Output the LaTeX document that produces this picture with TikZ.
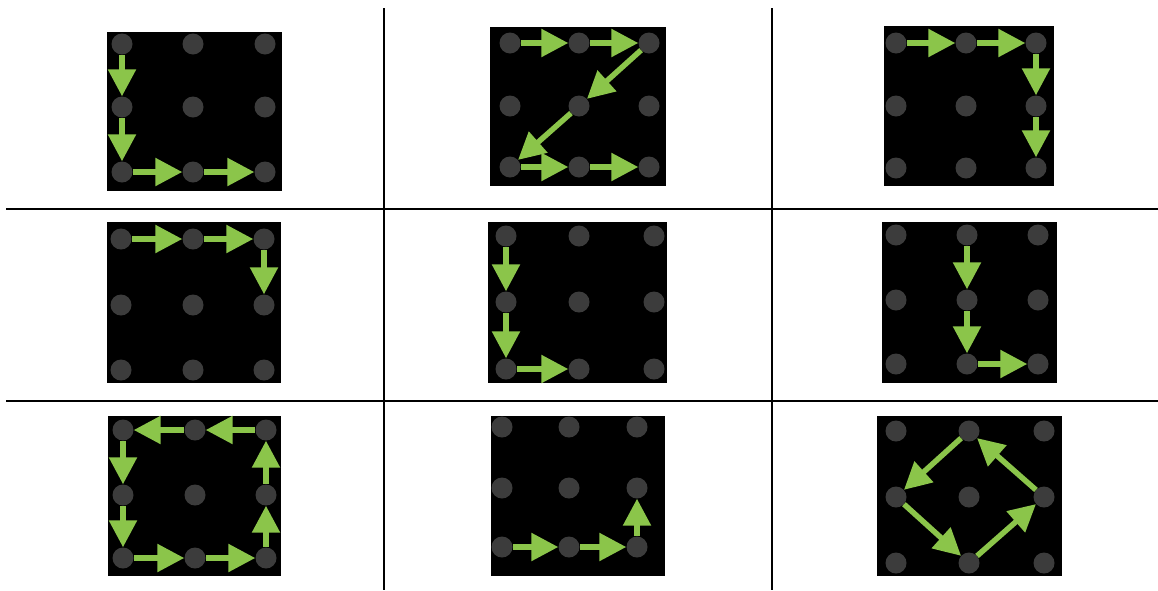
\documentclass[tikz,border=0pt]{standalone}
\usetikzlibrary{arrows.meta}
\definecolor{dotgray}{RGB}{60,60,60}
\definecolor{pgreen}{RGB}{139,197,74}
\tikzset{
  dot/.style={circle, fill=dotgray, draw=none, minimum size=21pt, inner sep=0pt},
  arr/.style={draw=pgreen, line width=5.5pt, -{Triangle[length=27pt,width=27pt]}},
  sep/.style={draw=black, line width=2pt},
  board/.style={fill=black}
}
\newcommand\dotgrid[7]{%
  \foreach \cc/\xx in {1/#2,2/#3,3/#4}{%
    \foreach \rr/\yy in {1/#5,2/#6,3/#7}{%
      \node[dot] (#1\rr\cc) at (\xx,\yy) {};
    }%
  }%
}
\begin{document}
\begin{tikzpicture}[x=1pt,y=-1pt]
\useasboundingbox (0,0) rectangle (1158,590);
% separators
\draw[sep] (6,209) -- (1158,209);
\draw[sep] (6,401) -- (1158,401);
\draw[sep] (384,8) -- (384,590);
\draw[sep] (772,8) -- (772,590);
% boards
\fill[board] (107,32) rectangle (282,191);
\fill[board] (490,27) rectangle (666,186);
\fill[board] (884,26) rectangle (1054,186);
\fill[board] (107,222) rectangle (281,383);
\fill[board] (488,222) rectangle (667,383);
\fill[board] (882,222) rectangle (1057,383);
\fill[board] (108,416) rectangle (281,576);
\fill[board] (491,416) rectangle (665,576);
\fill[board] (877,416) rectangle (1062,576);
% dots
\dotgrid{a}{122}{193}{265}{44}{107}{172}
\dotgrid{b}{510}{579}{649}{43}{106}{167}
\dotgrid{c}{896}{966}{1036}{43}{106}{168}
\dotgrid{d}{121}{193}{264}{239}{305}{370}
\dotgrid{e}{506}{579}{654}{236}{302}{369}
\dotgrid{f}{896}{967}{1038}{235}{300}{364}
\dotgrid{g}{123}{195}{266}{430}{495}{558}
\dotgrid{h}{502}{569}{637}{427}{488}{547}
\dotgrid{i}{896}{969}{1044}{431}{497}{563}
% arrows
\draw[arr] (a11) -- (a21);
\draw[arr] (a21) -- (a31);
\draw[arr] (a31) -- (a32);
\draw[arr] (a32) -- (a33);
\draw[arr] (b11) -- (b12);
\draw[arr] (b12) -- (b13);
\draw[arr] (b13) -- (b22);
\draw[arr] (b22) -- (b31);
\draw[arr] (b31) -- (b32);
\draw[arr] (b32) -- (b33);
\draw[arr] (c11) -- (c12);
\draw[arr] (c12) -- (c13);
\draw[arr] (c13) -- (c23);
\draw[arr] (c23) -- (c33);
\draw[arr] (d11) -- (d12);
\draw[arr] (d12) -- (d13);
\draw[arr] (d13) -- (d23);
\draw[arr] (e11) -- (e21);
\draw[arr] (e21) -- (e31);
\draw[arr] (e31) -- (e32);
\draw[arr] (f12) -- (f22);
\draw[arr] (f22) -- (f32);
\draw[arr] (f32) -- (f33);
\draw[arr] (g13) -- (g12);
\draw[arr] (g12) -- (g11);
\draw[arr] (g11) -- (g21);
\draw[arr] (g21) -- (g31);
\draw[arr] (g31) -- (g32);
\draw[arr] (g32) -- (g33);
\draw[arr] (g33) -- (g23);
\draw[arr] (g23) -- (g13);
\draw[arr] (h31) -- (h32);
\draw[arr] (h32) -- (h33);
\draw[arr] (h33) -- (h23);
\draw[arr] (i12) -- (i21);
\draw[arr] (i21) -- (i32);
\draw[arr] (i32) -- (i23);
\draw[arr] (i23) -- (i12);
\end{tikzpicture}
\end{document}
